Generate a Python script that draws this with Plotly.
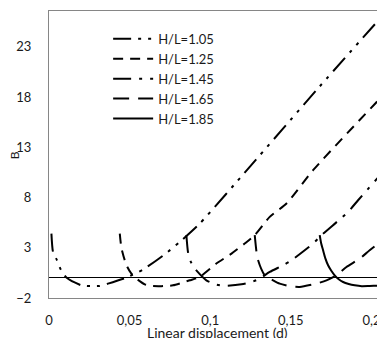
import plotly.graph_objects as go

# ---- data ----
series_names = ["H/L=1.05", "H/L=1.25", "H/L=1.45", "H/L=1.65", "H/L=1.85"]

x_105 = [0.0015, 0.0025, 0.0050, 0.0073, 0.0108, 0.0201, 0.0263, 0.0315, 0.0366, 0.0480,
         0.0583, 0.0718, 0.0811, 0.0935, 0.1245, 0.1659, 0.2072]
y_105 = [4.41, 2.58, 1.75, 0.83, 0.03, -0.74, -0.82, -0.80, -0.57, 0.03,
         0.83, 2.35, 3.58, 5.41, 11.05, 18.69, 26.16]

x_125 = [0.0439, 0.0449, 0.0470, 0.0486, 0.0511, 0.0542, 0.0594, 0.0635, 0.0697, 0.0769,
         0.0873, 0.0935, 0.1038, 0.1132, 0.1214, 0.1276, 0.1369, 0.1473, 0.1638, 0.2083]
y_125 = [4.41, 3.00, 1.75, 1.09, 0.43, -0.07, -0.64, -0.80, -0.82, -0.74,
         -0.24, 0.09, 1.43, 2.42, 3.42, 4.25, 6.07, 7.40, 10.72, 18.36]

x_145 = [0.0852, 0.0862, 0.0877, 0.0904, 0.0976, 0.1038, 0.1090, 0.1194, 0.1256, 0.1307,
         0.1369, 0.1452, 0.1504, 0.1586, 0.1638, 0.1690, 0.1855, 0.1917, 0.2072]
y_145 = [4.25, 2.58, 1.69, 0.93, -0.24, -0.67, -0.80, -0.64, -0.41, -0.07,
         0.59, 1.26, 1.75, 2.75, 3.42, 4.25, 6.57, 7.73, 10.55]

x_165 = [0.1276, 0.1287, 0.1297, 0.1338, 0.1390, 0.1431, 0.1493, 0.1555, 0.1659, 0.1721,
         0.1783, 0.1845, 0.1927, 0.1989, 0.2082]
y_165 = [4.25, 2.58, 1.75, 0.26, -0.24, -0.57, -0.83, -0.90, -0.57, -0.24,
         0.26, 1.09, 1.92, 2.75, 3.92]

x_185 = [0.1679, 0.1688, 0.1700, 0.1714, 0.1731, 0.1751, 0.1772, 0.1797, 0.1824, 0.1859,
         0.1896, 0.1940, 0.1989, 0.2038, 0.2082]
y_185 = [4.25, 3.45, 2.75, 1.95, 1.26, 0.71, 0.26, -0.14, -0.41, -0.61,
         -0.74, -0.82, -0.80, -0.78, -0.74]

x_tick_vals = [0, 0.05, 0.1, 0.15, 0.2]
x_tick_text = ["0", "0,05", "0,1", "0,15", "0,2"]
y_tick_vals = [-2, 3, 8, 13, 18, 23]

xs = [x_105, x_125, x_145, x_165, x_185]
ys = [y_105, y_125, y_145, y_165, y_185]
dashes = ["18px,7px,3px,7px,3px,7px", "10px,7px", "18px,8px,3px,8px", "16px,9px", "solid"]

FONT = "Lato"
TXT = "#1a1a1a"
AX = "#868686"

fig = go.Figure()
for name, xv, yv, d in zip(series_names, xs, ys, dashes):
    fig.add_trace(go.Scatter(
        x=xv, y=yv, name=name, mode="lines",
        line=dict(color="black", width=2, dash=d, shape="spline", smoothing=0.6),
    ))

# page body has an 8px margin, so the figure is 8px smaller and offset
fig.update_layout(
    width=377, height=330,
    margin=dict(l=41, r=0, t=3, b=40),
    paper_bgcolor="white", plot_bgcolor="white",
    font=dict(family=FONT, size=13, color=TXT),
    showlegend=True,
    legend=dict(
        x=0.176, y=0.955, xanchor="left", yanchor="top",
        bgcolor="rgba(0,0,0,0)", font=dict(family=FONT, size=13, color=TXT),
        itemwidth=40, tracegroupgap=0,
    ),
    xaxis=dict(
        range=[0, 0.2084], tickvals=x_tick_vals, ticktext=x_tick_text,
        showgrid=False, zeroline=False, showline=True, linecolor=AX, linewidth=1,
        mirror=True, ticks="", ticklabelstandoff=10, automargin=False,
        tickfont=dict(family=FONT, size=13, color=TXT),
    ),
    yaxis=dict(
        range=[-2, 26.56], tickvals=y_tick_vals,
        showgrid=False, zeroline=True, zerolinecolor="black", zerolinewidth=1,
        showline=True, linecolor=AX, linewidth=1, ticks="", ticklabelstandoff=14,
        automargin=False,
        tickfont=dict(family=FONT, size=13, color=TXT),
    ),
    annotations=[
        dict(text="Linear displacement (d)", xref="paper", yref="paper",
             x=0.5, y=-0.12, xanchor="center", yanchor="middle", showarrow=False,
             font=dict(family=FONT, size=14, color=TXT)),
        dict(text="B", xref="paper", yref="paper", x=-0.104, y=0.498,
             xanchor="center", yanchor="middle", showarrow=False, textangle=-90,
             font=dict(family=FONT, size=12, color=TXT)),
    ],
)

fig.write_html("out.html")
